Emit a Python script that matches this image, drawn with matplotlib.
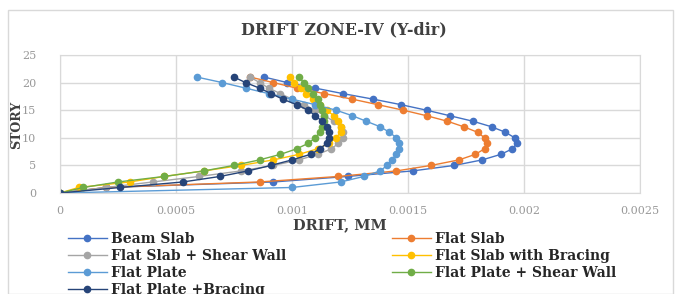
import numpy as np
import matplotlib.pyplot as plt
from matplotlib.patches import Rectangle

plt.rcParams['font.family'] = ['DejaVu Serif', 'Liberation Serif']

# datos de la grafica
pisos = list(range(0, 22))

beam_slab = [0, 0.00020, 0.00092, 0.00124, 0.00152, 0.00170, 0.00182, 0.00190, 0.00195, 0.00197, 0.00196,
             0.00192, 0.00186, 0.00178, 0.00168, 0.00158, 0.00147, 0.00135, 0.00122, 0.00110, 0.00098, 0.00088]
flat_slab = [0, 0.00020, 0.00086, 0.00120, 0.00145, 0.00160, 0.00172, 0.00179, 0.00183, 0.00184, 0.00183,
             0.00180, 0.00174, 0.00167, 0.00158, 0.00148, 0.00137, 0.00126, 0.00114, 0.00102, 0.00092, 0.00082]
flat_slab_sw = [0, 0.00020, 0.00040, 0.00060, 0.00078, 0.00092, 0.00103, 0.00111, 0.00117, 0.00120, 0.00122,
                0.00122, 0.00121, 0.00118, 0.00114, 0.00110, 0.00105, 0.00100, 0.00095, 0.00090, 0.00086, 0.00082]
flat_slab_br = [0, 0.00008, 0.00030, 0.00045, 0.00062, 0.00078, 0.00092, 0.00103, 0.00111, 0.00116, 0.00119,
                0.00121, 0.00121, 0.00120, 0.00118, 0.00115, 0.00112, 0.00109, 0.00106, 0.00104, 0.00101, 0.00099]
flat_plate = [0, 0.00100, 0.00121, 0.00131, 0.00138, 0.00141, 0.00143, 0.00145, 0.00146, 0.00146, 0.00145,
              0.00142, 0.00138, 0.00132, 0.00126, 0.00119, 0.00110, 0.00100, 0.00090, 0.00080, 0.00070, 0.00059]
flat_plate_sw = [0, 0.00010, 0.00025, 0.00045, 0.00062, 0.00075, 0.00086, 0.00095, 0.00102, 0.00107, 0.00110,
                 0.00112, 0.00113, 0.00114, 0.00114, 0.00113, 0.00112, 0.00111, 0.00109, 0.00107, 0.00105, 0.00103]
flat_plate_br = [0, 0.00026, 0.00053, 0.00069, 0.00081, 0.00091, 0.00100, 0.00108, 0.00112, 0.00115, 0.00116,
                 0.00116, 0.00115, 0.00113, 0.00110, 0.00107, 0.00102, 0.00096, 0.00091, 0.00086, 0.00080, 0.00075]

nombres = ['Beam Slab', 'Flat Slab', 'Flat Slab + Shear Wall', 'Flat Slab with Bracing',
           'Flat Plate', 'Flat Plate + Shear Wall', 'Flat Plate +Bracing']
series = [beam_slab, flat_slab, flat_slab_sw, flat_slab_br, flat_plate, flat_plate_sw, flat_plate_br]
colores = ['#4472C4', '#ED7D31', '#A5A5A5', '#FFC000', '#5B9BD5', '#70AD47', '#264478']

x_ticks = [0, 0.0005, 0.001, 0.0015, 0.002, 0.0025]
x_tick_labels = ['0', '0.0005', '0.001', '0.0015', '0.002', '0.0025']
y_ticks = [0, 5, 10, 15, 20, 25]

fig = plt.figure(figsize=(6.76, 2.94), dpi=100)
ax = fig.add_axes([60/676, 1-193/294, 580/676, 138/294])

# marco del grafico
fig.patches.append(Rectangle((8/676, 0.0), 665/676, 1-10/294, transform=fig.transFigure,
                             fill=False, edgecolor='#D9D9D9', linewidth=1))

lineas = []
for datos, nombre, c in zip(series, nombres, colores):
    l, = ax.plot(datos, pisos, color=c, marker='o', markersize=4.5, linewidth=1, label=nombre)
    lineas.append(l)

ax.set_xlim(0, 0.0025)
ax.set_ylim(0, 25)
ax.set_xticks(x_ticks)
ax.set_xticklabels(x_tick_labels)
ax.set_yticks(y_ticks)
ax.grid(True, color='#D9D9D9', linewidth=1)
ax.set_axisbelow(True)
ax.tick_params(axis='x', length=0, labelsize=8, colors='#999999', pad=9)
ax.tick_params(axis='y', length=0, labelsize=8, colors='#999999', pad=17)
for s in ax.spines.values():
    s.set_color('#D9D9D9')

fig.text(344/676, 1-30/294, 'DRIFT ZONE-IV (Y-dir)', ha='center', va='center',
         fontsize=11.5, fontweight='bold', color='#404040')
fig.text(17/676, 1-125/294, 'STORY', ha='center', va='center', rotation=90,
         fontsize=9, fontweight='bold', color='#404040')
fig.text(340/676, 1-225/294, 'DRIFT, MM', ha='center', va='center',
         fontsize=10.5, fontweight='bold', color='#404040')

# orden por filas como en excel
orden = [0, 2, 4, 6, 1, 3, 5]
leg = fig.legend([lineas[i] for i in orden], [nombres[i] for i in orden],
                 loc='upper left', bbox_to_anchor=(68/676, 1-232/294), ncol=2, frameon=False,
                 prop={'size': 10, 'weight': 'bold'}, handlelength=2.8, handletextpad=0.3,
                 columnspacing=7.6, labelspacing=0.22, borderpad=0, borderaxespad=0)
for t in leg.get_texts():
    t.set_color('#262626')

fig.savefig('out.png', dpi=100)
